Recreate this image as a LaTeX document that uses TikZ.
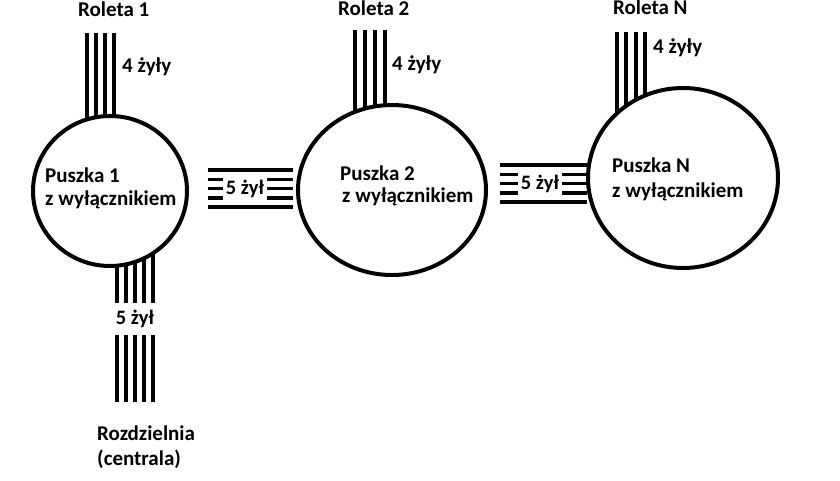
\documentclass[tikz,border=0pt]{standalone}
\usepackage{fontspec}
\setmainfont{Carlito}
\usetikzlibrary{shapes.geometric,backgrounds}
\begin{document}
\begin{tikzpicture}[x=1pt,y=-1pt,
  box/.style={draw, line width=4pt, ellipse, fill=white, inner sep=0pt},
  wire/.style={line width=3.5pt},
  lbl/.style={font=\fontsize{21}{25}\selectfont\bfseries, inner sep=0pt, anchor=base west},
  tag/.style={font=\fontsize{20.5}{25}\selectfont\bfseries, fill=white, inner sep=0pt}]
\useasboundingbox (0,0) rectangle (840,480);
% junction boxes
\node[box, minimum width=154pt, minimum height=150pt] (E1) at (110,191) {};
\node[box, minimum width=188pt, minimum height=170pt] (E2) at (392,190) {};
\node[box, minimum width=190pt, minimum height=180pt] (E3) at (683,178) {};
% wires
\begin{pgfonlayer}{background}
\foreach \x [count=\i] in {87,96,105,114} {
  \coordinate (ta\i) at (\x,33);
  \draw[wire] (ta\i) -- (ta\i |- E1.center);
}
\foreach \x [count=\i] in {355,365,375,385} {
  \coordinate (tb\i) at (\x,30);
  \draw[wire] (tb\i) -- (tb\i |- E2.center);
}
\foreach \x [count=\i] in {617,626,636,645} {
  \coordinate (tc\i) at (\x,32);
  \draw[wire] (tc\i) -- (tc\i |- E3.center);
}
\foreach \x [count=\i] in {117,126,135,144,153} {
  \coordinate (bd\i) at (\x,402);
  \draw[wire] (bd\i |- E1.center) -- (bd\i);
}
\end{pgfonlayer}
% horizontal bundles
\foreach \y [count=\i] in {170,179.25,188.5,197.75,207} {
  \coordinate (ha\i) at (208,\y);
  \coordinate (hb\i) at (293,\y);
  \draw[wire] (ha\i) -- (hb\i);
}
\foreach \y [count=\i] in {165,174.25,183.5,192.75,202} {
  \coordinate (hc\i) at (500,\y);
  \coordinate (hd\i) at (587,\y);
  \draw[wire] (hc\i) -- (hd\i);
}
% bundle labels
\node[tag, minimum width=44pt, minimum height=27pt] (L1) at (245,188.5) {5 żył};
\node[tag, minimum width=44pt, minimum height=27pt] (L2) at (540,183.5) {5 żył};
\node[tag, minimum width=46pt, minimum height=32pt] (L3) at (135,319) {5 żył};
% texts
\node[lbl] (r1) at (78,16) {Roleta 1};
\node[lbl] (r2) at (338,15) {Roleta 2};
\node[lbl] (r3) at (613,14.5) {Roleta N};
\node[lbl] (z1) at (122,72) {4 żyły};
\node[lbl] (z2) at (392,70) {4 żyły};
\node[lbl] (z3) at (653,53) {4 żyły};
\node[lbl] (p1a) at (45,182) {Puszka 1};
\node[lbl] (p1b) at (45,205) {z wyłącznikiem};
\node[lbl] (p2a) at (340,180) {Puszka 2};
\node[lbl] (p2b) at (342,202) {z wyłącznikiem};
\node[lbl] (p3a) at (612,172) {Puszka N};
\node[lbl] (p3b) at (612,197) {z wyłącznikiem};
\node[lbl] (rz1) at (97,440) {Rozdzielnia};
\node[lbl] (rz2) at (97,465) {(centrala)};
\end{tikzpicture}
\end{document}
